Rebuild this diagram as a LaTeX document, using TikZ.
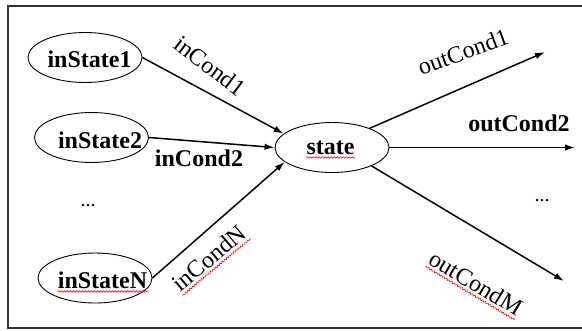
\documentclass[tikz,border=0pt]{standalone}
\usepackage{fontspec}
\setmainfont{Liberation Serif}
\usetikzlibrary{arrows.meta,shapes.geometric,decorations.pathmorphing,calc}
\begin{document}
\begin{tikzpicture}[x=1bp,y=-1bp,
  stell/.style={ellipse,draw,line width=0.9bp,inner sep=0pt,minimum width=114bp,minimum height=50bp},
  sttext/.style={inner sep=0pt,anchor=base,font=\fontsize{24bp}{26bp}\selectfont\bfseries},
  conn/.style={line width=1.5bp,-{Latex[length=10bp,width=6.5bp]}},
  lab/.style={inner sep=0pt,font=\fontsize{24bp}{26bp}\selectfont},
  blab/.style={inner sep=0pt,anchor=base,font=\fontsize{24bp}{26bp}\selectfont\bfseries},
  dots/.style={inner sep=0pt,font=\fontsize{20bp}{22bp}\selectfont},
  squig/.style={red,line width=0.6bp,decorate,decoration={snake,amplitude=0.8bp,segment length=3bp}},
  frame/.style={line width=2.2bp,draw=black!80}]
\useasboundingbox (0,0) rectangle (582,330);
\draw[frame] (584,5.8) -- (7.6,5.8) -- (7.6,328) -- (584,328);

% state ellipses
\node[stell] (s1) at (85,57.5) {};
\node[stell] (s2) at (91.5,137.5) {};
\node[stell] (sN) at (95,278) {};
\node[stell] (st) at (332,147.5) {};
\node[sttext] (s1t) at (89.5,67) {inState1};
\node[sttext] (s2t) at (100,148) {inState2};
\node[sttext] (sNt) at (102.5,288) {inStateN};
\node[sttext] (stt) at (330.5,154) {state};

% free ends
\coordinate (o1) at (545,52);
\coordinate (o2) at (575,147.5);
\coordinate (o3) at (564,281);

% connectors
\draw[conn] (s1.east) -- (st.164);
\draw[conn] (s2.east) -- (st.west);
\draw[conn] (sN.east) -- (st.197);
\draw[conn] (st.27) -- (o1);
\draw[conn] (st.east) -- (o2);
\draw[conn] (st.-25) -- (o3);

% labels
\node[lab,rotate=-37] (l1) at (210,66) {inCond1};
\node[blab] (l2) at (199,166) {inCond2};
\node[lab,rotate=40] (lN) at (209,258) {inCondN};
\node[lab,rotate=20] (m1) at (463,52) {outCond1};
\node[blab] (m2) at (519,131) {outCond2};
\node[lab,rotate=-31] (mM) at (476,283) {outCondM};
\node[dots] (d1) at (88,206) {...};
\node[dots] (d2) at (542,201) {...};

% spell-check underlines
\draw[squig] ($(sNt.base west)!3.5bp!-90:(sNt.base east)$) -- ($(sNt.base east)!3.5bp!90:(sNt.base west)$);
\draw[squig] ($(stt.base west)!3.5bp!-90:(stt.base east)$) -- ($(stt.base east)!3.5bp!90:(stt.base west)$);
\draw[squig] ($(lN.base west)!3.5bp!-90:(lN.base east)$) -- ($(lN.base east)!3.5bp!90:(lN.base west)$);
\draw[squig] ($(mM.base west)!3.5bp!-90:(mM.base east)$) -- ($(mM.base east)!3.5bp!90:(mM.base west)$);
\end{tikzpicture}
\end{document}
